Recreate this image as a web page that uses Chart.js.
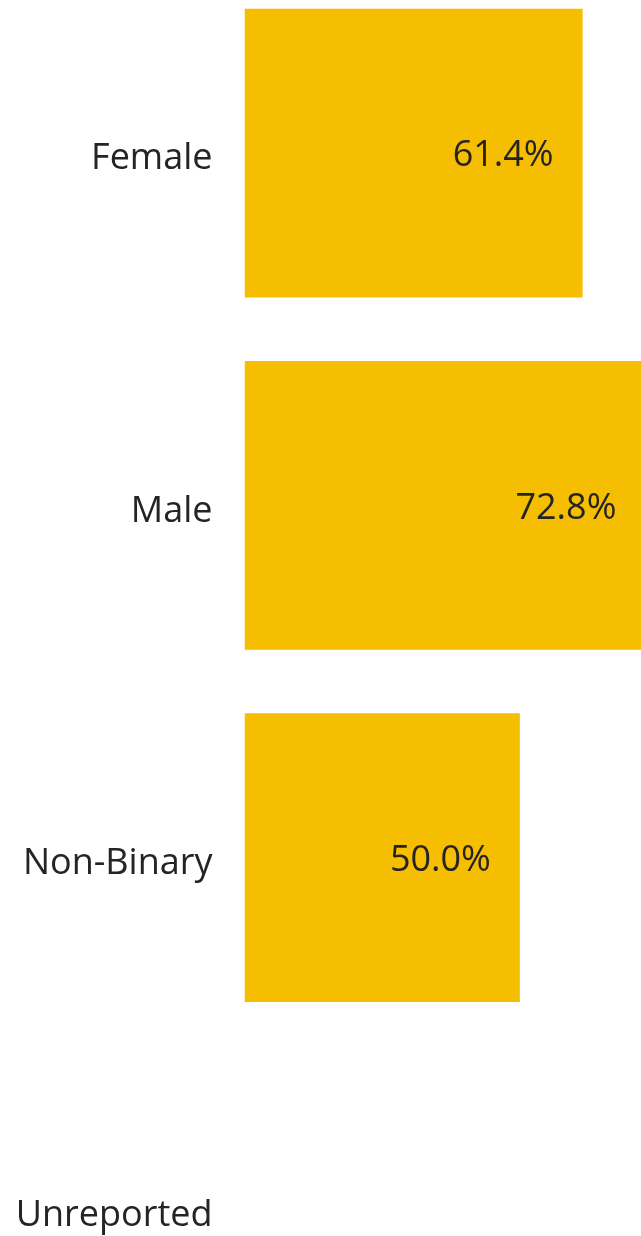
<!DOCTYPE html>
<html>
<head>
<meta charset="utf-8">
<script src="https://cdn.jsdelivr.net/npm/chart.js@4"></script>
<style>
  html, body { margin: 0; padding: 0; background: #fff; }
  #wrap { position: relative; width: 641px; height: 1236px; overflow: hidden; }
  #c { position: absolute; left: 0; top: -23px; }
</style>
</head>
<body>
<div id="wrap"><canvas id="c" width="641" height="1409"></canvas></div>
<script>
const categories = ["Female", "Male", "Non-Binary", "Unreported"];
const values = [61.4, 72.8, 50.0, null];
const valueLabels = ["61.4%", "72.8%", "50.0%", ""];

const FONT = "'Open Sans', 'Noto Sans', sans-serif";
const TEXT = "#252423";

const barLabels = {
  id: "barLabels",
  afterDatasetsDraw(chart) {
    const ctx = chart.ctx;
    const meta = chart.getDatasetMeta(0);
    ctx.save();
    ctx.font = "36px " + FONT;
    ctx.fillStyle = TEXT;
    ctx.textAlign = "right";
    ctx.textBaseline = "middle";
    meta.data.forEach((bar, i) => {
      if (values[i] == null || !valueLabels[i]) return;
      ctx.fillText(valueLabels[i], bar.x - 29, bar.y + 3);
    });
    ctx.restore();
  }
};

new Chart(document.getElementById("c"), {
  type: "bar",
  data: {
    labels: categories,
    datasets: [{
      data: values,
      backgroundColor: "#F6BE00",
      borderWidth: 0,
      barPercentage: 0.82,
      categoryPercentage: 1.0
    }]
  },
  options: {
    indexAxis: "y",
    responsive: false,
    animation: false,
    layout: { padding: 0 },
    plugins: { legend: { display: false }, tooltip: { enabled: false } },
    scales: {
      x: { display: false, min: 0, max: 72 },
      y: {
        grid: { display: false, drawTicks: false },
        border: { display: false },
        ticks: { color: TEXT, font: { size: 36, family: FONT }, padding: 32, labelOffset: 6 },
        afterFit(scale) {
          scale.width = 244.5;
          scale.paddingTop = 0;
          scale.paddingBottom = 0;
        }
      }
    }
  },
  plugins: [barLabels]
});
</script>
</body>
</html>
